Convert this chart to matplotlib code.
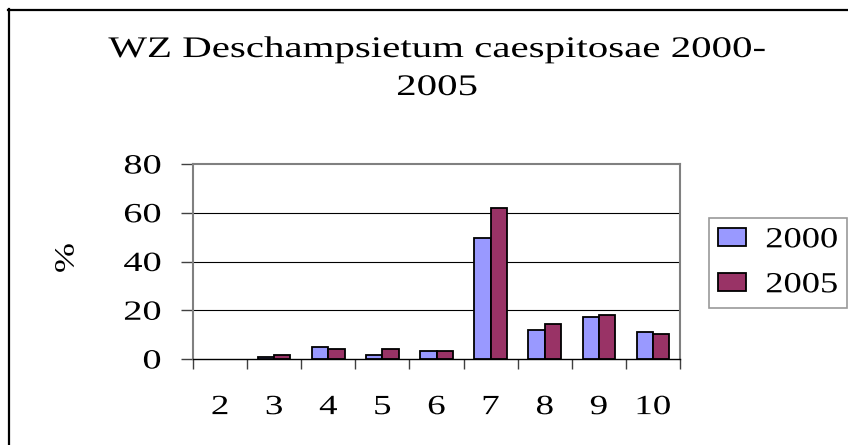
import matplotlib
matplotlib.use("Agg")
import matplotlib.pyplot as plt
from matplotlib.lines import Line2D
from matplotlib.transforms import Affine2D
from matplotlib import patheffects
import numpy as np

categories = ["2", "3", "4", "5", "6", "7", "8", "9", "10"]
values_2000 = [0, 0.8, 4.8, 1.6, 3.2, 49.5, 11.9, 17.4, 11.1]
values_2005 = [0, 1.6, 4.0, 4.0, 3.2, 62.1, 14.4, 18.2, 10.4]
series_labels = ["2000", "2005"]
yticks = [0, 20, 40, 60, 80]


class Stretch(patheffects.AbstractPathEffect):
    # the reference text is drawn wider than normal Times, so stretch glyphs
    def __init__(self, sx, anchor='left'):
        super().__init__()
        self.sx = sx
        self.anchor = anchor

    def draw_path(self, renderer, gc, tpath, affine, rgbFace=None):
        ext = tpath.get_extents()
        if self.anchor == 'center':
            x0 = (ext.x0 + ext.x1) / 2
        elif self.anchor == 'right':
            x0 = ext.x1
        else:
            x0 = 0
        pre = Affine2D().translate(-x0, 0).scale(self.sx, 1).translate(x0, 0)
        renderer.draw_path(gc, tpath, pre + affine, rgbFace)


plt.rcParams['font.family'] = ['Liberation Serif', 'DejaVu Serif']

W, H = 848, 445
fig = plt.figure(figsize=(W / 100, H / 100), dpi=100)
fig.patch.set_facecolor('white')

# plot area in pixels: x 193..680, y 164..359
ax = fig.add_axes([193 / W, 1 - 359 / H, (680 - 193) / W, (359 - 164) / H])

x = np.arange(len(categories))
bw = 0.3
# empty bars get no outline, like in Excel
ax.bar(x - bw / 2, values_2000, bw, color='#9999FF', edgecolor='black',
       linewidth=[1.3 if v else 0 for v in values_2000],
       label=series_labels[0], zorder=3)
ax.bar(x + bw / 2, values_2005, bw, color='#993366', edgecolor='black',
       linewidth=[1.3 if v else 0 for v in values_2005],
       label=series_labels[1], zorder=3)

ax.set_xlim(-0.5, len(categories) - 0.5)
ax.set_ylim(0, 80)
ax.set_yticks(yticks)
ax.set_yticklabels([str(v) for v in yticks], fontsize=20)
ax.set_xticks(x)
ax.set_xticklabels(categories, fontsize=20)
ax.set_xticks(np.arange(len(categories) + 1) - 0.5, minor=True)
ax.tick_params(axis='x', which='major', length=0, pad=26)
ax.tick_params(axis='x', which='minor', length=7, width=1, color='#404040')
ax.tick_params(axis='y', length=9, width=1, color='#404040', pad=14)

for t in ax.get_yticklabels():
    t.set_path_effects([Stretch(1.38, 'right')])
for t in ax.get_xticklabels():
    t.set_path_effects([Stretch(1.33, 'center')])

for v in yticks[1:-1]:
    ax.axhline(v, color='black', linewidth=0.8, zorder=1)

for s in ['left', 'right', 'top']:
    ax.spines[s].set_color('#808080')
    ax.spines[s].set_linewidth(1.5)
ax.spines['bottom'].set_color('black')
ax.spines['bottom'].set_linewidth(1)

fig.text(67 / W, 1 - 258 / H, "%", fontsize=20, rotation=90,
         ha='center', va='center', path_effects=[Stretch(1.3, 'center')])

# both title lines are centred on the (partly cut off) chart area
title_fx = [Stretch(1.37, 'center')]
fig.text(437 / W, 1 - 57 / H, "WZ Deschampsietum caespitosae 2000-",
         fontsize=21.5, ha='center', va='baseline', path_effects=title_fx)
fig.text(437 / W, 1 - 95 / H, "2005", fontsize=21.5, ha='center',
         va='baseline', path_effects=title_fx)

leg = fig.legend(loc='upper left', bbox_to_anchor=(709 / W, 1 - 218 / H),
                 fontsize=21, frameon=True, fancybox=False, borderaxespad=0,
                 handlelength=0.95, handleheight=0.6, handletextpad=1.15,
                 borderpad=0.32, labelspacing=0.65)
leg.get_frame().set_edgecolor('#808080')
leg.get_frame().set_linewidth(1.2)
for t in leg.get_texts():
    t.set_path_effects([Stretch(1.25, 'right')])
for h in leg.legend_handles:
    h.set_linewidth(1.3)

# outer chart border (right and bottom edges fall outside the image)
fig.add_artist(Line2D([8.5 / W, 8.5 / W], [0, 1 - 9 / H], color='black',
                      linewidth=1.6, transform=fig.transFigure))
fig.add_artist(Line2D([8 / W, 1], [1 - 9.5 / H, 1 - 9.5 / H], color='black',
                      linewidth=1.6, transform=fig.transFigure))

fig.savefig("out.png", dpi=100)
